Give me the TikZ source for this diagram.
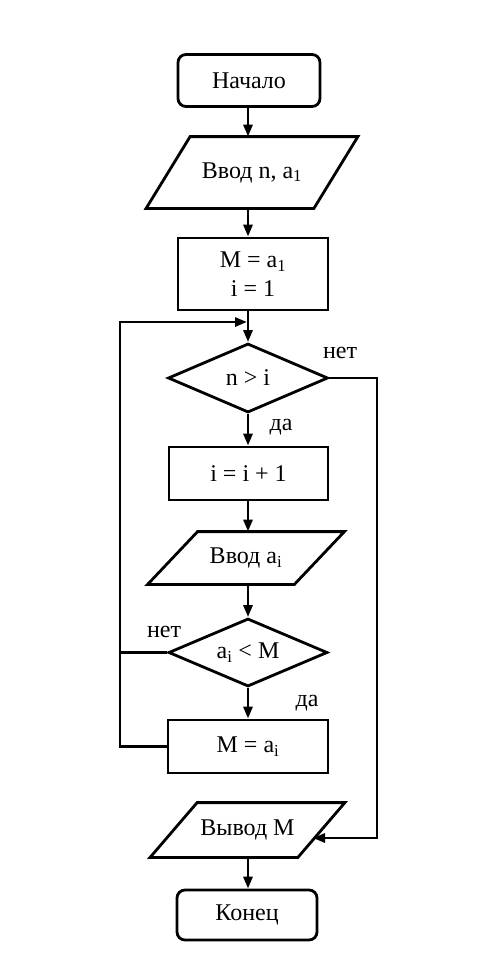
\documentclass[tikz,border=0pt]{standalone}
\usepackage{fontspec}
\setmainfont{Liberation Serif}
\usetikzlibrary{arrows.meta,shapes.geometric,calc}
\begin{document}
\begin{tikzpicture}[x=1pt,y=-1pt,line width=2.8pt,
  every node/.style={font=\fontsize{24}{29}\selectfont},
  term/.style={draw,rounded corners=8pt,minimum width=142pt,minimum height=52pt,inner sep=0pt},
  proc/.style={draw,minimum height=53pt,inner sep=0pt,align=center},
  box/.style={minimum height=#1,inner sep=0pt},
  cond/.style={draw,diamond,aspect=2.3,inner sep=0pt},
  lbl/.style={inner sep=0pt},
  arr/.style={-{Triangle[length=12pt,width=9pt]}}]
\useasboundingbox (0,0) rectangle (485,966);
\coordinate (col) at (248,0);
% nodes
\node[term] (start) at (249,80.5) {Начало};
\node[box=69pt,minimum width=165pt] (in1) at (252,172.5) {Ввод n, a\textsubscript{1}};
\node[proc,minimum width=150pt,minimum height=72pt] (init) at (253,274) {M = a\textsubscript{1}\\i = 1};
\node[cond,minimum width=160pt,minimum height=69pt] (c1) at (248,378) {n > i};
\node[proc,minimum width=159pt] (inc) at (248.5,473.5) {i = i + 1};
\node[box=50pt,minimum width=144pt] (in2) at (246,558) {Ввод a\textsubscript{i}};
\node[cond,minimum width=159pt,minimum height=68pt] (c2) at (248,652.5) {a\textsubscript{i} < M};
\node[proc,minimum width=160pt] (upd) at (248,746.5) {M = a\textsubscript{i}};
\node[box=52pt,minimum width=145pt] (out) at (247.5,830) {Вывод M};
\node[term,minimum width=140pt,minimum height=50pt] (fin) at (247,915) {Конец};
% parallelograms
\draw ([xshift=22pt]in1.north west) -- ([xshift=22pt]in1.north east) -- ([xshift=-22pt]in1.south east) -- ([xshift=-22pt]in1.south west) -- cycle;
\draw ([xshift=25pt]in2.north west) -- ([xshift=25pt]in2.north east) -- ([xshift=-25pt]in2.south east) -- ([xshift=-25pt]in2.south west) -- cycle;
\draw ([xshift=23.5pt]out.north west) -- ([xshift=23.5pt]out.north east) -- ([xshift=-23.5pt]out.south east) -- ([xshift=-23.5pt]out.south west) -- cycle;
% labels
\node[lbl] (n1) at (340,353) {нет};
\node[lbl] (y1) at (281,427) {да};
\node[lbl] (n2) at (164,632) {нет};
\node[lbl] (y2) at (307,703) {да};
% helper coordinates
\coordinate (mrg) at (248,322);
\coordinate (lx) at (120,322);
\coordinate (rr) at (377,838);
\coordinate (outin) at (313,838);
% connectors
\draw[arr] (col |- start.south) -- (col |- in1.north);
\draw[arr] (col |- in1.south) -- (col |- init.north);
\draw (col |- init.south) -- (mrg);
\draw[arr] (mrg) -- (c1.north);
\draw[arr] (c1.south) -- (col |- inc.north);
\draw[arr] (col |- inc.south) -- (col |- in2.north);
\draw[arr] (col |- in2.south) -- (c2.north);
\draw[arr] (c2.south) -- (col |- upd.north);
\draw[arr] (upd.west) -- (upd.west -| lx) -- (lx) -- ([xshift=-1pt]mrg);
\draw (c2.west) -- (c2.west -| lx);
\draw[arr] (c1.east) -- (c1.east -| rr) -- (rr) -- (outin);
\draw[arr] (col |- out.south) -- (col |- fin.north);
\end{tikzpicture}
\end{document}
